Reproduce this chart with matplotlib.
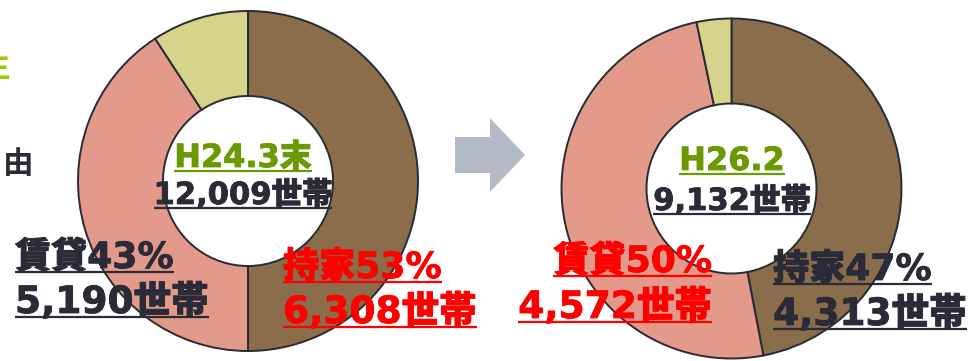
import matplotlib
matplotlib.use("Agg")
import matplotlib.pyplot as plt
from matplotlib.patches import Polygon
import matplotlib.patheffects as pe

plt.rcParams['font.family'] = ['DejaVu Sans', 'Noto Sans CJK JP']

# slice shares as drawn (clockwise from 12 o'clock): 持家, 賃貸, その他
left_shares = [50.0, 40.8, 9.2]
right_shares = [47.0, 49.7, 3.3]
slice_colors = ['#8A6D4B', '#E39A8B', '#D6D48A']

left_period = 'H24.3末'
left_total = '12,009世帯'
left_rent = ['賃貸43%', '5,190世帯']
left_own = ['持家53%', '6,308世帯']

right_period = 'H26.2'
right_total = '9,132世帯'
right_rent = ['賃貸50%', '4,572世帯']
right_own = ['持家47%', '4,313世帯']

W, H = 971, 361
DARK = '#2B2B38'
GREEN = '#6A9A00'
RED = '#FF0000'

fig = plt.figure(figsize=(W / 100, H / 100), dpi=100)
ax = fig.add_axes([0, 0, 1, 1])


def Y(y):
    # picture y (top down) -> data y
    return H - y


def donut(shares, cx, cy, r, w):
    ax.pie(shares, radius=r, center=(cx, Y(cy)), startangle=90, counterclock=False,
           colors=slice_colors, frame=True,
           wedgeprops=dict(width=w, edgecolor='#2A2A33', linewidth=1.4))


donut(left_shares, 248, 181, 170, 85)
donut(right_shares, 731.5, 188.5, 170, 85)

# arrow between the two
arrow = Polygon([(455, Y(137)), (490, Y(137)), (490, Y(118)), (525, Y(155)),
                 (490, Y(192)), (490, Y(173)), (455, Y(173))],
                closed=True, facecolor='#B4BBC6', edgecolor='none')
ax.add_patch(arrow)

labels = []


def label(s, x, y, size, color, ha='left', uline=4):
    t = ax.text(x, Y(y), s, fontsize=size, fontweight='heavy', color=color,
                ha=ha, va='baseline', zorder=5,
                path_effects=[pe.withStroke(linewidth=0.6, foreground=color)])
    labels.append((t, y + uline, color))


label(left_period, 243, 167, 23, GREEN, ha='center')
label(left_total, 243, 204, 22, DARK, ha='center')
label(left_rent[0], 15, 268, 26, DARK)
label(left_rent[1], 15, 313, 27, DARK)
label(left_own[0], 283, 278, 26, RED)
label(left_own[1], 283, 323, 27, RED)

label(right_period, 732, 170, 23, GREEN, ha='center')
label(right_total, 732, 210, 22, DARK, ha='center')
label(right_rent[0], 712, 272, 26, RED, ha='right')
label(right_rent[1], 712, 318, 27, RED, ha='right')
label(right_own[0], 773, 280, 26, DARK)
label(right_own[1], 773, 325, 27, DARK)

# clipped text from the slide on the left edge
ax.text(-21, Y(77), '生', fontsize=22, fontweight='bold', color='#99CC00',
        va='baseline', zorder=5)
ax.text(3, Y(173), '由', fontsize=22, fontweight='bold', color=DARK,
        va='baseline', zorder=5)

ax.set_xlim(0, W)
ax.set_ylim(0, H)
ax.set_aspect('auto')
ax.axis('off')

# underline each label across its width
fig.canvas.draw()
inv = ax.transData.inverted()
for t, uy, c in labels:
    bb = t.get_window_extent()
    x0 = inv.transform((bb.x0, 0))[0]
    x1 = inv.transform((bb.x1, 0))[0]
    ax.plot([x0, x1], [Y(uy), Y(uy)], color=c, linewidth=1.6, zorder=5,
            solid_capstyle='butt')

fig.savefig('out.png', dpi=100)
